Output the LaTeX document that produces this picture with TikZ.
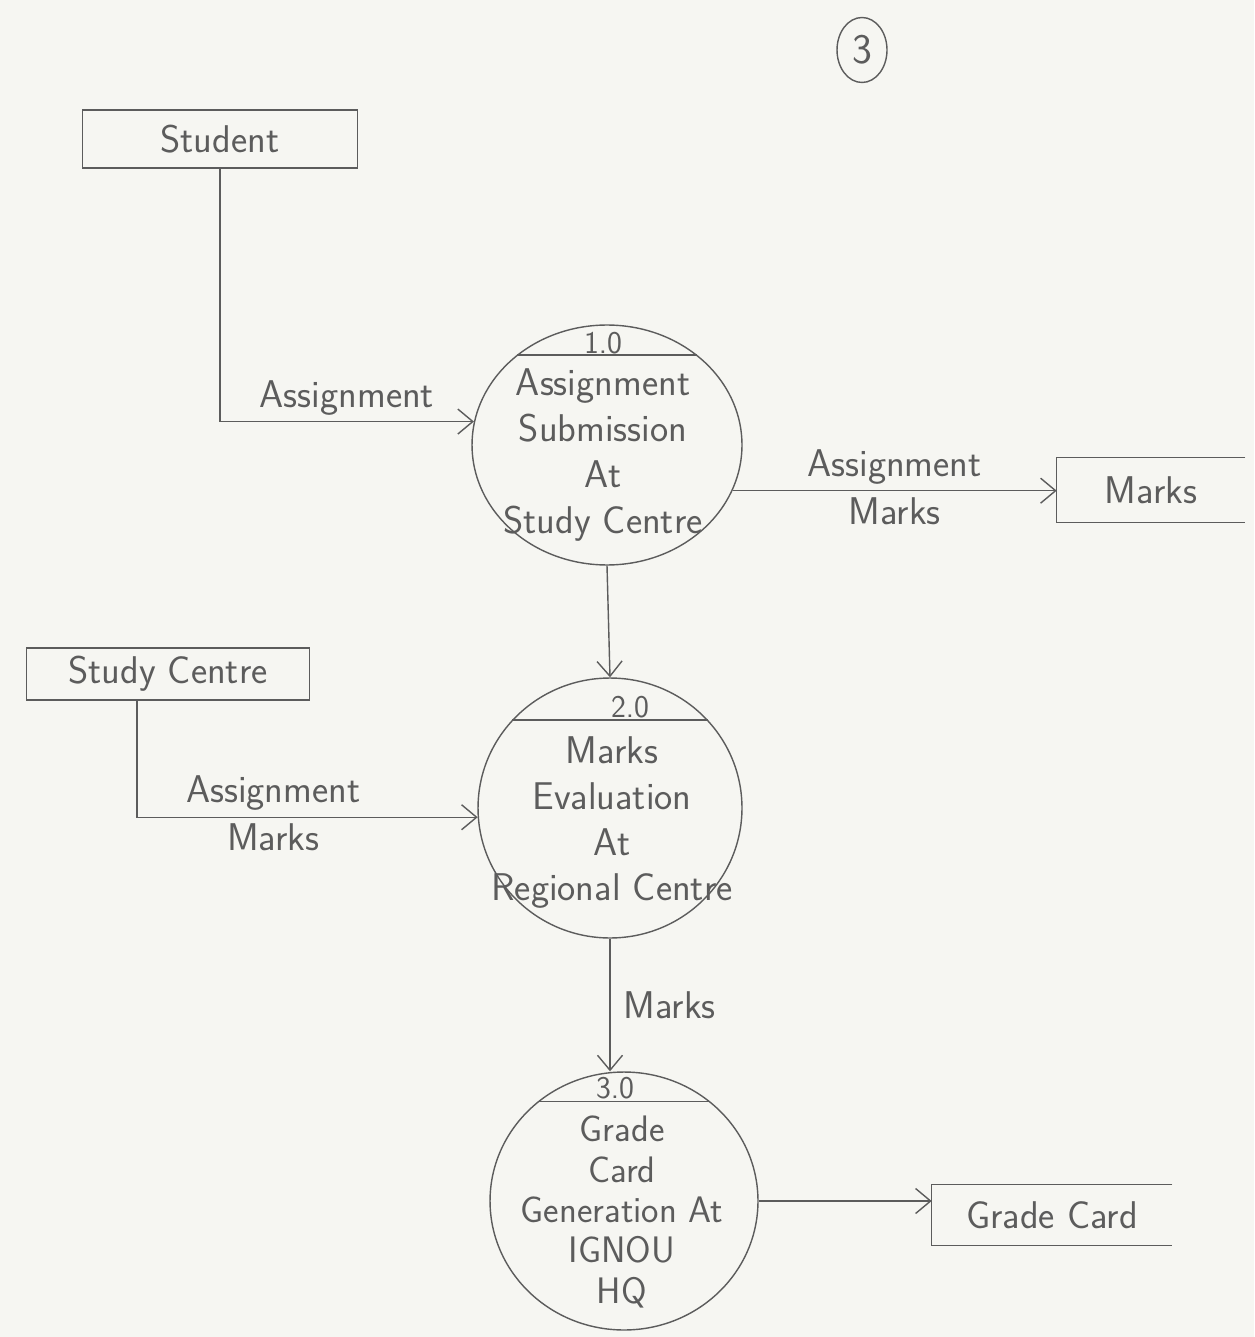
\documentclass[tikz,border=0pt]{standalone}
\usepackage{xcolor}
\definecolor{pencil}{HTML}{5C5C5C}
\definecolor{paper}{HTML}{F6F6F2}
\usepackage{tikz}
\usetikzlibrary{arrows.meta, positioning, shapes.geometric}

\tikzset{
  entity/.style={draw=pencil, thick, inner sep=2pt, font=\sffamily\fontsize{22}{26}\selectfont, text=pencil},
  store/.style={inner sep=2pt, font=\sffamily\fontsize{22}{26}\selectfont, text=pencil},
  process/.style={ellipse, draw=pencil, thick, inner sep=0pt},
  procnum/.style={font=\sffamily\fontsize{18}{20}\selectfont, text=pencil, inner sep=1pt},
  proctext/.style={align=center, font=\sffamily\fontsize{22}{26}\selectfont, text=pencil, inner sep=0pt},
  flow/.style={draw=pencil, thick, -{Straight Barb[length=3mm, width=5mm]}},
  flowlabel/.style={font=\sffamily\fontsize{22}{26}\selectfont, text=pencil}
}

\begin{document}
\begin{tikzpicture}[x=0.02cm, y=-0.02cm]
  % paper
  \fill[paper] (0,0) rectangle (1254,1337);
  \useasboundingbox (0,0) rectangle (1254,1337);

  % page number
  \node[ellipse, draw=pencil, thick, minimum width=1cm, minimum height=1.3cm,
        font=\sffamily\fontsize{24}{26}\selectfont, text=pencil] (pageno) at (862,50) {3};

  % --- External entities ---
  \node[entity, minimum width=5.5cm, minimum height=1.16cm] (student) at (220,139) {Student};
  \node[entity, minimum width=5.66cm, minimum height=1.04cm] (studycentre) at (168,674) {Study Centre};

  % --- Data stores (open on the right) ---
  \node[store, minimum width=3.76cm, minimum height=1.28cm] (marks) at (1151,490) {Marks};
  \draw[pencil, thick] (marks.north east) -- (marks.north west) -- (marks.south west) -- (marks.south east);
  \node[store, minimum width=4.8cm, minimum height=1.2cm] (gradecard) at (1052,1215) {Grade Card};
  \draw[pencil, thick] (gradecard.north east) -- (gradecard.north west) -- (gradecard.south west) -- (gradecard.south east);

  % --- Process 1.0 ---
  \node[process, minimum width=5.4cm, minimum height=4.8cm] (p1) at (607,445) {};
  \draw[pencil, thick] (p1.135) -- (p1.45);
  \node[procnum] (p1num) at (603,343) {1.0};
  \node[proctext] (p1text) at (603,455) {Assignment\\Submission\\At\\Study Centre};

  % --- Process 2.0 ---
  \node[process, minimum width=5.28cm, minimum height=5.2cm] (p2) at (610,808) {};
  \draw[pencil, thick] (p2.138) -- (p2.42);
  \node[procnum] (p2num) at (630,707) {2.0};
  \node[proctext] (p2text) at (612,823) {Marks\\Evaluation\\At\\Regional Centre};

  % --- Process 3.0 ---
  \node[process, minimum width=5.36cm, minimum height=5.16cm] (p3) at (624,1201) {};
  \draw[pencil, thick] (p3.131) -- (p3.49);
  \node[procnum] (p3num) at (615,1088) {3.0};
  \node[proctext, font=\sffamily\fontsize{21}{23}\selectfont] (p3text) at (622,1212) {Grade\\Card\\Generation At\\IGNOU\\HQ};

  % --- Data flows ---
  \draw[flow] (student.south) |- (p1.170)
    node[flowlabel, pos=0.75, above] {Assignment};
  \draw[flow] (p1.-20) -- (p1.-20 -| marks.west)
    node[flowlabel, midway, above] {Assignment}
    node[flowlabel, midway, below] {Marks};
  \draw[flow] (p1.south) -- (p2.north);
  \draw[flow] ([xshift=-0.62cm]studycentre.south) |- (p2.184)
    node[flowlabel, pos=0.7, above] {Assignment}
    node[flowlabel, pos=0.7, below] {Marks};
  \draw[flow] (p2.south) -- (p3.north -| p2.south)
    node[flowlabel, midway, right, xshift=4pt] {Marks};
  \draw[flow] (p3.east) -- (p3.east -| gradecard.west);
\end{tikzpicture}
\end{document}
